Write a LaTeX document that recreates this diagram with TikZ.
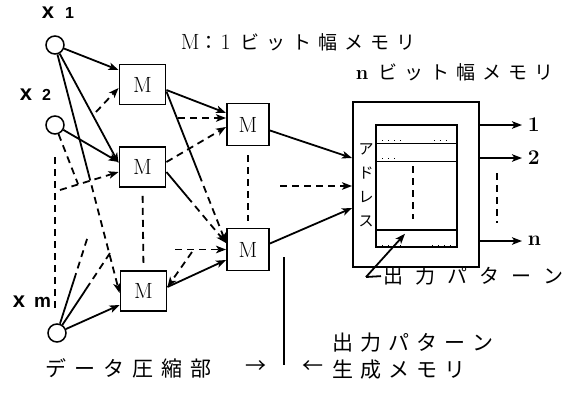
\documentclass[tikz,border=0pt]{standalone}
\usepackage{fontspec}
\newfontfamily\jp{Noto Sans CJK JP}
\newfontfamily\lsans{Liberation Sans}
\usetikzlibrary{arrows.meta,calc}
\newlength\spk
\def\spaced#1#2{\setlength\spk{#1}\spacedaux#2\relax}
\def\spacedaux#1{\ifx\relax#1\else#1\kern\spk\expandafter\spacedaux\fi}
\begin{document}
\begin{tikzpicture}[x=1pt,y=-1pt,line width=1.8pt,
  >={Stealth[length=10pt,width=7.5pt,inset=2.5pt]},
  inp/.style={circle,draw,line width=1.5pt,minimum size=18pt,inner sep=0pt},
  mbox/.style={draw,line width=1.9pt,minimum width=46pt,minimum height=40pt,inner sep=0pt,font=\fontsize{22}{22}\selectfont},
  mboxb/.style={mbox,minimum width=42pt,minimum height=42pt},
  dsh/.style={dash pattern=on 7pt off 5pt},
  jtext/.style={font=\jp\fontsize{21}{21}\selectfont,inner sep=0pt,anchor=west},
  lbl/.style={inner sep=0pt,anchor=base west},
  outl/.style={inner sep=0pt,anchor=west,font=\bfseries\fontsize{21}{21}\selectfont}]
\useasboundingbox (0,0) rectangle (572,399);

% inputs
\node[inp] (x1) at (55,45) {};
\node[inp] (x2) at (55,125) {};
\node[inp] (xm) at (57,333) {};
\node[lbl] (lx1) at (41,18) {\lsans\bfseries\fontsize{22}{22}\selectfont x\hspace{11pt}\fontsize{16}{16}\selectfont 1};
\node[lbl] (lx2) at (19,100) {\lsans\bfseries\fontsize{22}{22}\selectfont x\hspace{10pt}\fontsize{16}{16}\selectfont 2};
\node[lbl] (lxm) at (12,307) {\lsans\bfseries\fontsize{22}{22}\selectfont x\hspace{9pt}\fontsize{19}{19}\selectfont m};

% 1-bit memories
\node[mbox] (M1) at (142.5,84.5) {M};
\node[mbox] (M2) at (142.5,167) {M};
\node[mbox] (M3) at (143.5,291) {M};
\node[mboxb] (M4) at (248,124.5) {M};
\node[mboxb] (M5) at (248,249.5) {M};

% n-bit memory
\node[draw,line width=1.9pt,minimum width=126pt,minimum height=165pt,inner sep=0pt] (big) at (416,184.5) {};
\node[draw,line width=1.6pt,minimum width=81pt,minimum height=122pt,inner sep=0pt] (pat) at (416.5,186) {};
\draw[line width=1.4pt] ([yshift=-19pt]pat.north west) -- ([yshift=-19pt]pat.north east);
\draw[line width=1.4pt] ([yshift=-37pt]pat.north west) -- ([yshift=-37pt]pat.north east);
\draw[line width=1.4pt] ([yshift=18pt]pat.south west) -- ([yshift=18pt]pat.south east);
\draw[dsh] ([xshift=-3.5pt,yshift=-42pt]pat.north) -- ([xshift=-3.5pt,yshift=29pt]pat.south);
\draw[line width=1.1pt,dash pattern=on 1pt off 5pt] ([xshift=7pt,yshift=-16pt]pat.north west) -- ([xshift=26pt,yshift=-16pt]pat.north west);
\draw[line width=1.1pt,dash pattern=on 1pt off 5pt] ([xshift=-24pt,yshift=-16pt]pat.north east) -- ([xshift=-6pt,yshift=-16pt]pat.north east);
\draw[line width=1.1pt,dash pattern=on 1pt off 5pt] ([xshift=7pt,yshift=-34pt]pat.north west) -- ([xshift=24pt,yshift=-34pt]pat.north west);
\draw[line width=1.1pt,dash pattern=on 1pt off 5pt] ([xshift=7pt,yshift=2pt]pat.south west) -- ([xshift=26pt,yshift=2pt]pat.south west);
\draw[line width=1.1pt,dash pattern=on 1pt off 5pt] ([xshift=-26pt,yshift=2pt]pat.south east) -- ([xshift=-6pt,yshift=2pt]pat.south east);
\node[font=\jp\fontsize{15}{24}\selectfont,align=center,inner sep=0pt] (addr) at (366,185) {ア\\ド\\レ\\ス};

% outputs
\node[outl] (o1) at (527,125) {1};
\node[outl] (o2) at (527,158) {2};
\node[outl] (on) at (527,241) {n};
\draw[->,shorten >=5pt] ([yshift=59.5pt]big.east) -- (o1.west);
\draw[->,shorten >=5pt] ([yshift=26.5pt]big.east) -- (o2.west);
\draw[->,shorten >=5pt] ([yshift=-56.5pt]big.east) -- (on.west);
\coordinate (d1) at (497,173);
\coordinate (d2) at (497,223);
\draw[dsh] (d1) -- (d2);

% output pattern label
\node[jtext,font=\jp\fontsize{20}{20}\selectfont] (plab) at (383,276) {\spaced{12pt}{出力パターン}};
\coordinate (pb) at (366,277);
\draw[->] (pb) -- ([xshift=-11.5pt,yshift=14pt]pat.south);
\draw[shorten >=2pt] (pb) -- (plab.west);

% input layer connections
\draw[->] (x1) -- ([yshift=14.5pt]M1.west);
\draw[->] (x1) -- ([yshift=4pt]M2.west);
\path (x1) -- ([yshift=-2pt]M3.west) coordinate[pos=0.5] (x1m3);
\draw (x1) -- (x1m3);
\draw[dsh,->] (x1m3) -- ([yshift=-2pt]M3.west);
\draw[->] (x2) -- ([yshift=5pt]M2.west);
\coordinate (s2) at (78,184);
\draw[dsh] (x2) -- (s2);
\coordinate (s1) at (96,112);
\draw[dsh,->] (s1) -- ([yshift=-3.5pt]M1.west);
\coordinate (s3) at (60,190);
\draw[dsh,->] (s3) -- ([yshift=-5pt]M2.west);
\coordinate (v1) at (55,157);
\coordinate (v2) at (55,312);
\draw[dsh] (v1) -- (v2);
\draw[->] (xm) -- ([yshift=-14pt]M3.west);
\coordinate (sa) at (88,236);
\coordinate (sb) at (110,253);
\path (xm) -- (sa) coordinate[pos=0.5] (xma);
\draw (xm) -- (xma);
\draw[dsh] (xma) -- (sa);
\path (xm) -- (sb) coordinate[pos=0.5] (xmb);
\draw (xm) -- (xmb);
\draw[dsh] (xmb) -- (sb);

% middle layer connections
\draw[->] ([yshift=-5.5pt]M1.east) -- ([yshift=11.5pt]M4.west);
\path ([yshift=-7pt]M1.east) -- ([yshift=6.5pt]M5.west) coordinate[pos=0.55] (m15);
\draw ([yshift=-7pt]M1.east) -- (m15);
\draw[dsh,->] (m15) -- ([yshift=6.5pt]M5.west);
\coordinate (s4) at (178,118);
\draw[dsh,->] (s4) -- ([yshift=6.5pt]M4.west);
\draw[dsh,->] ([yshift=5pt]M2.east) -- ([yshift=-2.5pt]M4.west);
\path ([yshift=-5pt]M2.east) -- ([yshift=6.5pt]M5.west) coordinate[pos=0.35] (m25);
\draw ([yshift=-5pt]M2.east) -- (m25);
\draw[dsh,->] (m25) -- ([yshift=6.5pt]M5.west);
\coordinate (s5) at (175,249.5);
\draw[dsh,->] (s5) -- (M5.west);
\draw[->] ([yshift=4pt]M3.east) -- ([yshift=-10.5pt]M5.west);
\coordinate (s6) at (192,252);
\draw[dsh,->] (s6) -- ([yshift=4pt]M3.east);
\draw[dsh,shorten <=8pt,shorten >=5pt] (M2.south) -- (M3.north);
\draw[dsh,shorten <=9pt,shorten >=7pt] (M4.south) -- (M5.north);

% to n-bit memory
\draw[->] ([yshift=-6pt]M4.east) -- ([yshift=26.5pt]big.west);
\coordinate (s7) at (280,186);
\draw[dsh,->] (s7) -- ([yshift=-1.5pt]big.west);
\draw[->] ([yshift=6pt]M5.east) -- ([yshift=-23.5pt]big.west);

% titles
\node[anchor=west,inner sep=0pt] (t1) at (180,42) {\fontsize{22}{22}\selectfont M{\jp\fontsize{19}{19}\selectfont ：}\hspace{2pt}1\hspace{10pt}{\jp\fontsize{19}{19}\selectfont\spaced{7pt}{ビット幅メモリ}}};
\node[anchor=west,inner sep=0pt] (t2) at (355,72) {\bfseries\fontsize{20}{20}\selectfont n\hspace{10pt}{\mdseries\jp\fontsize{19}{19}\selectfont\spaced{7pt}{ビット幅メモリ}}};

% bottom labels
\node[jtext] (comp) at (45,368) {\spaced{8pt}{データ圧縮部}};
\node[jtext] (ar1) at (245,367) {→};
\coordinate (vl1) at (284,257);
\coordinate (vl2) at (284,365);
\draw (vl1) -- (vl2);
\node[jtext] (ar2) at (302,367) {←};
\node[jtext] (gen1) at (332,343) {\spaced{7pt}{出力パターン}};
\node[jtext] (gen2) at (332,370) {\spaced{7pt}{生成メモリ}};
\end{tikzpicture}
\end{document}
